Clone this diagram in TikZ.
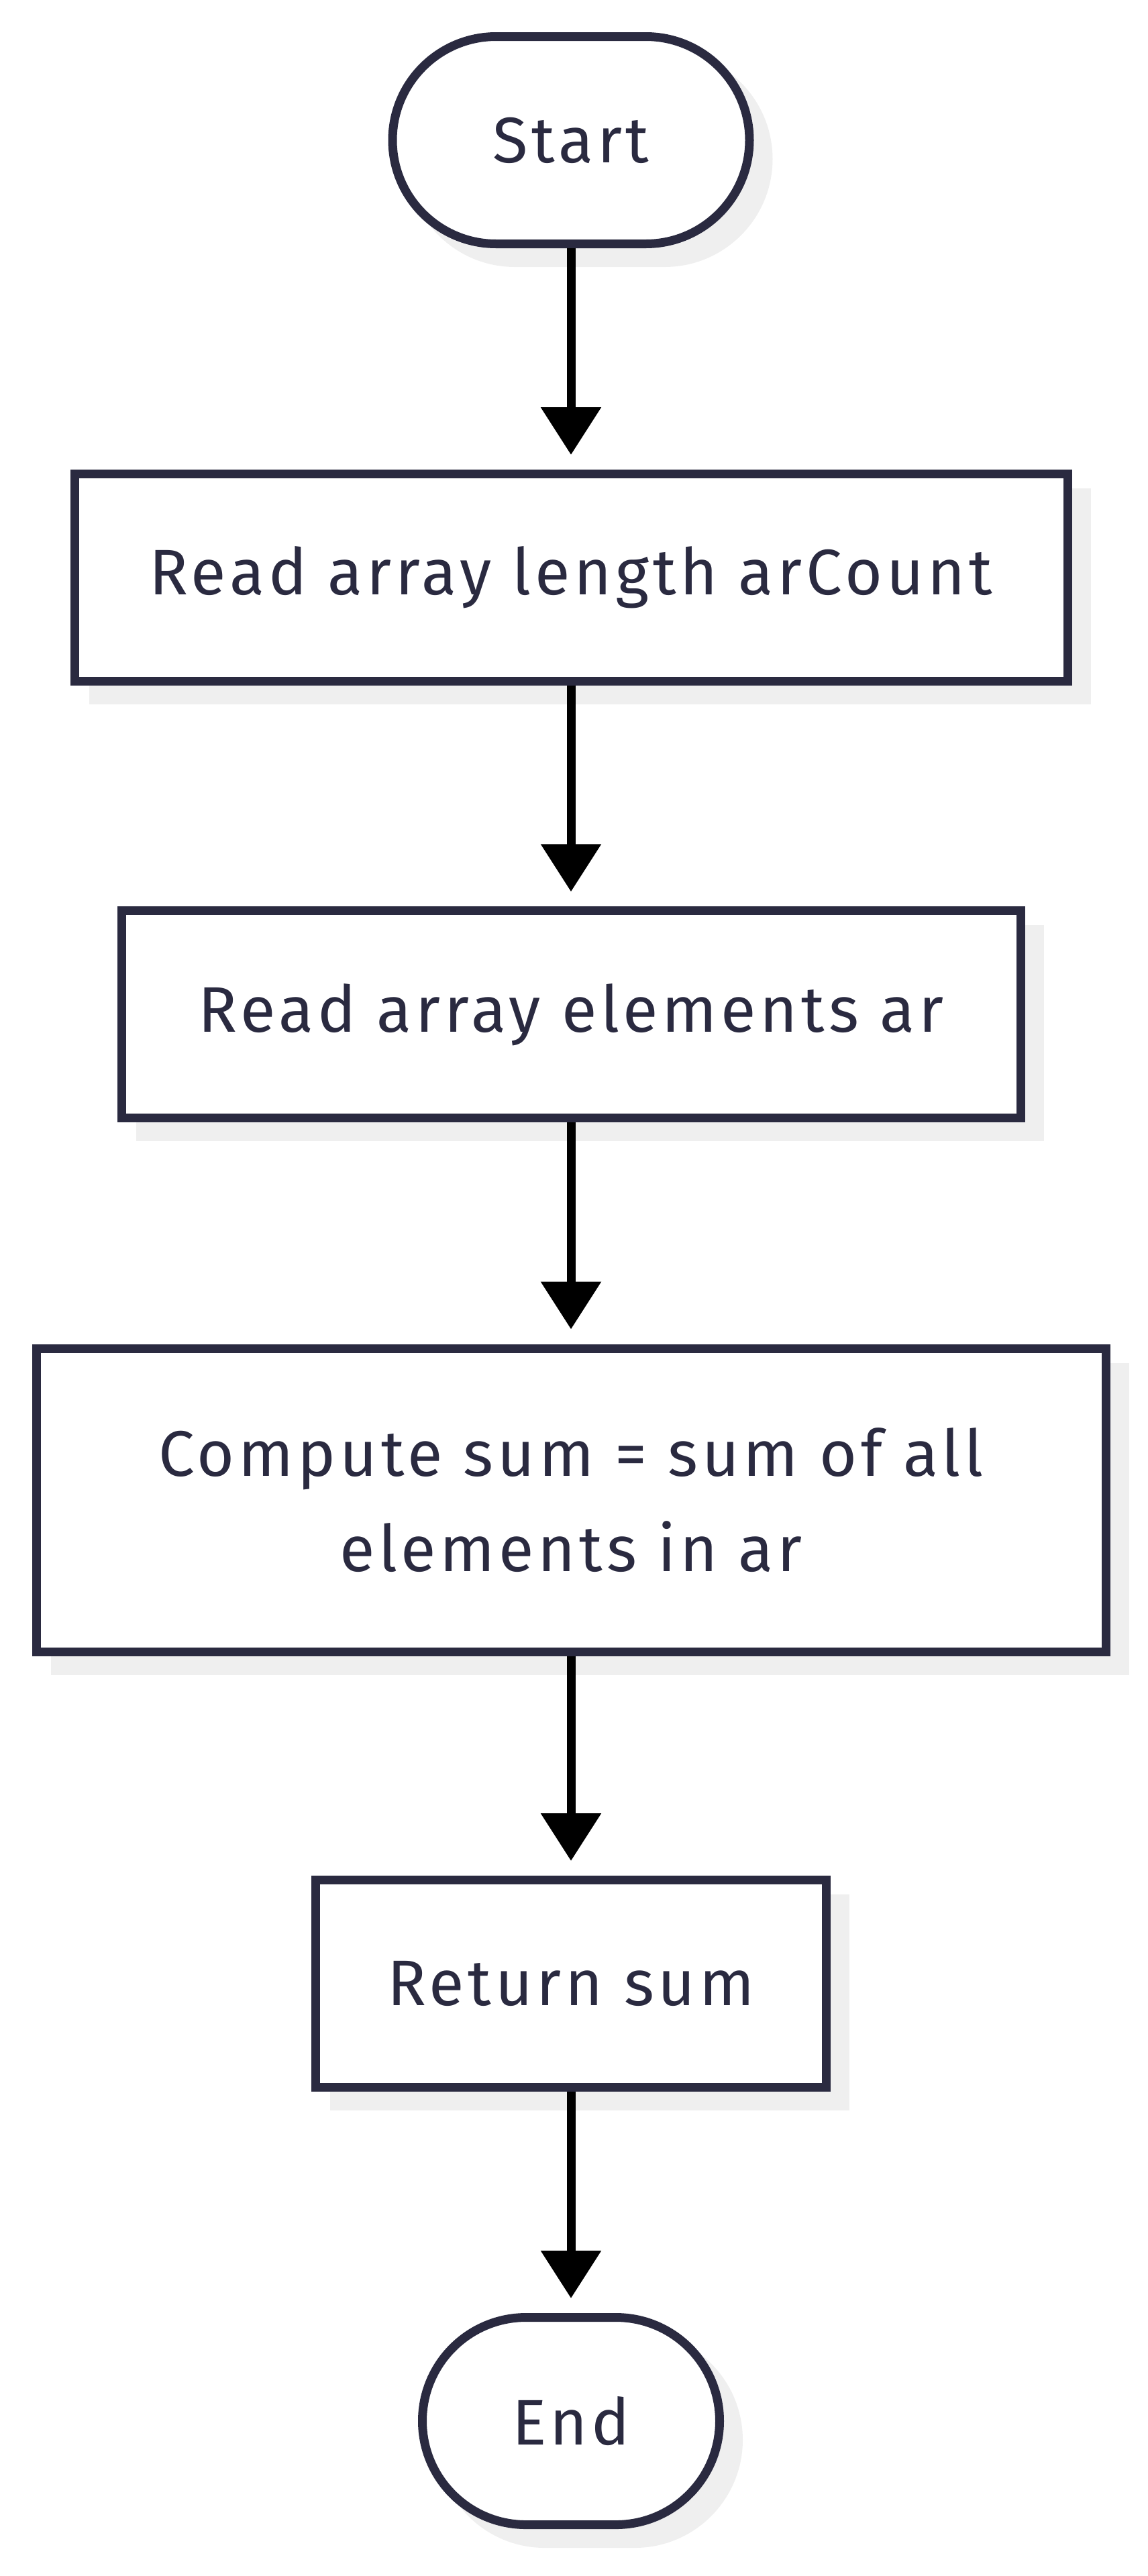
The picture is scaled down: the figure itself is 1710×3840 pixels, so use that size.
\documentclass[tikz,border=0pt]{standalone}
\usepackage{fontspec}
\setmainfont{Fira Sans}[LetterSpace=6]
\usetikzlibrary{arrows.meta,shadows}
\definecolor{ink}{HTML}{2A2A40}
\definecolor{shade}{HTML}{EFEFEF}

\begin{document}
\begin{tikzpicture}[x=0.5pt,y=0.5pt,
  box/.style={draw=ink,line width=6.5pt,fill=white,inner sep=0pt,text=ink,
    font=\fontsize{48}{71}\selectfont,align=center,
    drop shadow={shadow xshift=14pt,shadow yshift=-14pt,opacity=1,fill=shade,draw=shade}},
  term/.style={box,rounded corners=77.25pt},
  flow/.style={-{Triangle[width=43.5pt,length=35.5pt]},line width=6.5pt,shorten >=11pt}]
\useasboundingbox (0,0) rectangle (1710,-3840);
\node[term,minimum width=266pt,minimum height=154.5pt] (start) at (851,-209) {Start};
\node[box,minimum width=740pt,minimum height=154.25pt] (rdlen) at (851,-860.75) {Read array length arCount};
\node[box,minimum width=670pt,minimum height=154.5pt] (rdel) at (851,-1512.25) {Read array elements ar};
\node[box,minimum width=797pt,minimum height=226pt] (comp) at (851,-2236) {Compute sum = sum of all\\elements in ar};
\node[box,minimum width=380.5pt,minimum height=154.5pt] (ret) at (851,-2957) {Return sum};
\node[term,minimum width=221.5pt,minimum height=154.5pt] (fin) at (851,-3609) {End};
\draw[flow] (start) -- (rdlen);
\draw[flow] (rdlen) -- (rdel);
\draw[flow] (rdel) -- (comp);
\draw[flow] (comp) -- (ret);
\draw[flow] (ret) -- (fin);
\end{tikzpicture}
\end{document}
